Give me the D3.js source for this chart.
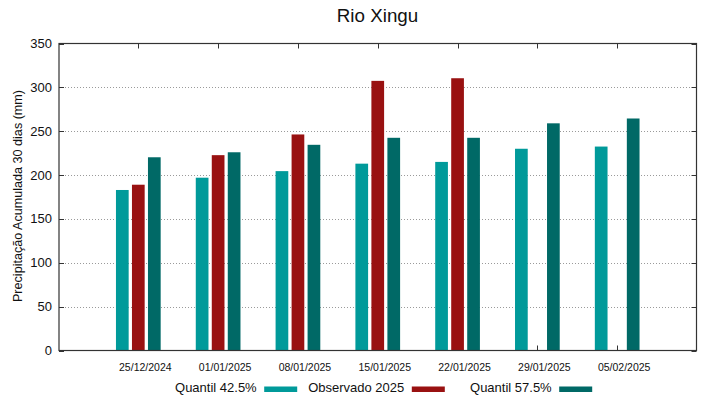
<!DOCTYPE html>
<html>
<head>
<meta charset="utf-8">
<script src="https://cdn.jsdelivr.net/npm/d3@7"></script>
<style>
	body { margin: 0; background: #fff; }
	text { font-family: 'Liberation Sans', Arial, sans-serif; fill: #111; }
</style>
</head>
<body>
<div id="dataviz"></div>
<script>
const dates = ['25/12/2024', '01/01/2025', '08/01/2025', '15/01/2025', '22/01/2025', '29/01/2025', '05/02/2025'];
const quantil425 = [183, 197, 204.5, 213, 215, 230, 232.5];
const observado = [189, 222.7, 246.3, 307.4, 310.4, null, null];
const quantil575 = [220.3, 226, 234.5, 242.5, 242.5, 259, 264.5];
const yTicks = [0, 50, 100, 150, 200, 250, 300, 350];

const seriesNames = ['Quantil 42.5%', 'Observado 2025', 'Quantil 57.5%'];
const seriesValues = [quantil425, observado, quantil575];
const colors = ['#009a9a', '#991111', '#006966'];

window.onload = function() {
	const width = 719;
	const height = 399;
	const plot = { left: 59, right: 696.5, top: 43.5, bottom: 350.5 };

	const svg = d3.select('#dataviz')
		.append('svg')
		.attr('width', width)
		.attr('height', height);

	const xScale = d3.scaleLinear()
		.domain([0, dates.length + 1])
		.range([58.5, 697]);

	const yScale = d3.scaleLinear()
		.domain([0, 350])
		.range([plot.bottom, plot.top]);

	// grid
	svg.append('g')
		.selectAll('line')
		.data(yTicks.filter(d => d > 0 && d < 350))
		.join('line')
		.attr('x1', plot.left)
		.attr('x2', plot.right)
		.attr('y1', d => Math.round(yScale(d)) + 0.5)
		.attr('y2', d => Math.round(yScale(d)) + 0.5)
		.attr('stroke', '#9a9a9a')
		.attr('stroke-width', 1)
		.attr('stroke-dasharray', '1,2');

	// category ticks, top and bottom (drawn under the bars)
	const ticksG = svg.append('g').attr('stroke', '#333').attr('stroke-width', 1);
	dates.forEach((d, i) => {
		const x = Math.round(xScale(i + 1)) + 0.5;
		ticksG.append('line').attr('x1', x).attr('x2', x).attr('y1', plot.top).attr('y2', plot.top + 5);
		ticksG.append('line').attr('x1', x).attr('x2', x).attr('y1', plot.bottom).attr('y2', plot.bottom - 5);
	});
	yTicks.forEach(v => {
		const y = Math.round(yScale(v)) + 0.5;
		ticksG.append('line').attr('x1', plot.left).attr('x2', plot.left + 5).attr('y1', y).attr('y2', y);
		ticksG.append('line').attr('x1', plot.right).attr('x2', plot.right - 5).attr('y1', y).attr('y2', y);
	});

	// bars
	const barWidth = 12.7;
	const offsets = [-16, 0, 16];
	seriesValues.forEach((values, s) => {
		svg.append('g')
			.selectAll('rect')
			.data(values.map((v, i) => ({ v: v, i: i })).filter(d => d.v !== null))
			.join('rect')
			.attr('x', d => xScale(d.i + 1) + offsets[s] - barWidth / 2)
			.attr('y', d => yScale(d.v))
			.attr('width', barWidth)
			.attr('height', d => yScale(0) - yScale(d.v))
			.attr('fill', colors[s]);
	});

	// frame
	svg.append('rect')
		.attr('x', plot.left)
		.attr('y', plot.top)
		.attr('width', plot.right - plot.left)
		.attr('height', plot.bottom - plot.top)
		.attr('fill', 'none')
		.attr('stroke', '#333')
		.attr('stroke-width', 1.2);

	// y tick labels
	svg.append('g')
		.selectAll('text')
		.data(yTicks)
		.join('text')
		.attr('x', 52)
		.attr('y', d => yScale(d) + 4.5)
		.attr('text-anchor', 'end')
		.style('font-size', '13px')
		.text(d => d);

	// x tick labels
	svg.append('g')
		.selectAll('text')
		.data(dates)
		.join('text')
		.attr('x', (d, i) => xScale(i + 1) + 7)
		.attr('y', 371)
		.attr('text-anchor', 'middle')
		.style('font-size', '10.5px')
		.text(d => d);

	// y axis title
	svg.append('text')
		.attr('transform', 'translate(21.5, 196) rotate(-90)')
		.attr('text-anchor', 'middle')
		.style('font-size', '12.6px')
		.text('Precipitação Acumulada 30 dias (mm)');

	// title
	svg.append('text')
		.attr('x', 377.5)
		.attr('y', 21.5)
		.attr('text-anchor', 'middle')
		.style('font-size', '18.8px')
		.text('Rio Xingu');

	// legend
	const legendTextEnd = [256.7, 404.3, 551.7];
	seriesNames.forEach((name, s) => {
		svg.append('text')
			.attr('x', legendTextEnd[s])
			.attr('y', 391.5)
			.attr('text-anchor', 'end')
			.style('font-size', '13px')
			.text(name);
		svg.append('rect')
			.attr('x', legendTextEnd[s] + 7.5)
			.attr('y', 386.5)
			.attr('width', 33)
			.attr('height', 5.5)
			.attr('fill', colors[s]);
	});
};
</script>
</body>
</html>
